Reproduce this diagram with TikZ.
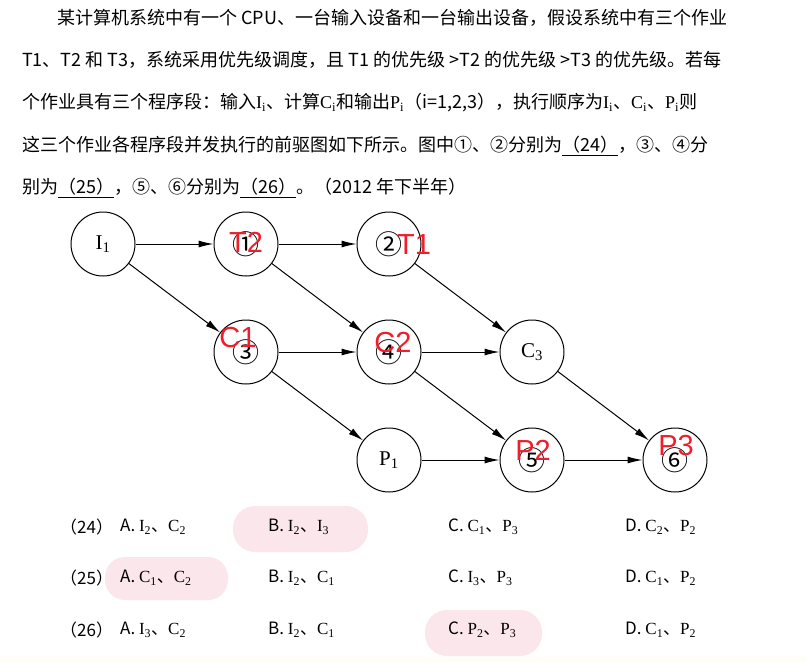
\documentclass[tikz,border=0pt]{standalone}
\usepackage{fontspec}
\setmainfont{Liberation Sans}
\newfontfamily\cjk{Noto Sans CJK SC}
\newfontfamily\serl{Liberation Serif}
\usetikzlibrary{arrows.meta,positioning}
\definecolor{hlpink}{HTML}{FBE6EC}
\definecolor{inkred}{HTML}{F01E2C}
\tikzstyle{job} = [draw,circle,line width=1pt,inner sep=0,minimum size=64pt,font=\serl\fontsize{21}{21}\selectfont]
\tikzstyle{dep} = [-{Latex[length=15pt,width=7pt]},line width=1pt]
\tikzstyle{line} = [anchor=west,inner sep=0,font=\cjk\fontsize{18}{20}\selectfont]
\tikzstyle{opt} = [anchor=west,inner sep=0,font=\cjk\fontsize{17}{19}\selectfont]
\tikzstyle{ink} = [inkred,font=\fontsize{29}{29}\selectfont]
\newcommand\jseg[2]{{\serl #1\textsubscript{#2}}}
\newcommand\circnum[1]{{\cjk\fontsize{27}{27}\selectfont #1}}
\def \gx {78pt}
\def \gy {43pt}

\begin{document}
\begin{tikzpicture}[x=1pt,y=-1pt,node distance=\gy and \gx]
  \useasboundingbox (0,0) rectangle (807,662);
  \fill[white] (0,0) rectangle (807,662);
  \fill[yellow!6] (0,658) rectangle (807,662);
  % question text
  \node[line] (l1) at (57,18) {某计算机系统中有一个 CPU、一台输入设备和一台输出设备，假设系统中有三个作业};
  \node[line] (l2) at (22,60) {T1、T2 和 T3，系统采用优先级调度，且 T1 的优先级 >T2 的优先级 >T3 的优先级。若每};
  \node[line] (l3) at (22,103) {个作业具有三个程序段：输入\jseg{I}{i}、计算\jseg{C}{i}和输出\jseg{P}{i}（i=1,2,3），执行顺序为\jseg{I}{i}、\jseg{C}{i}、\jseg{P}{i}则};
  \node[line] (l4) at (22,146) {这三个作业各程序段并发执行的前驱图如下所示。图中①、②分别为\underline{（24）}，③、④分};
  \node[line] (l5) at (22,188) {别为\underline{（25）}，⑤、⑥分别为\underline{（26）}。（2012 年下半年）};
  % precedence graph
  \node[job] (i1) at (103,244) {I\textsubscript{1}};
  \node[job,right=of i1] (n1) {\circnum{①}};
  \node[job,right=of n1] (n2) {\circnum{②}};
  \node[job,below=of n1] (n3) {\circnum{③}};
  \node[job,right=of n3] (n4) {\circnum{④}};
  \node[job,right=of n4] (c3) {C\textsubscript{3}};
  \node[job,below=of n4] (p1) {P\textsubscript{1}};
  \node[job,right=of p1] (n5) {\circnum{⑤}};
  \node[job,right=of n5] (n6) {\circnum{⑥}};
  \draw[dep] (i1) -- (n1);
  \draw[dep] (i1) -- (n3);
  \draw[dep] (n1) -- (n2);
  \draw[dep] (n1) -- (n4);
  \draw[dep] (n2) -- (c3);
  \draw[dep] (n3) -- (n4);
  \draw[dep] (n3) -- (p1);
  \draw[dep] (n4) -- (c3);
  \draw[dep] (n4) -- (n5);
  \draw[dep] (c3) -- (n6);
  \draw[dep] (p1) -- (n5);
  \draw[dep] (n5) -- (n6);
  % handwritten answers
  \node[ink] (h1) at (246,242) {T2};
  \node[ink] (h2) at (414,245) {T1};
  \node[ink] (h3) at (238,338) {C1};
  \node[ink] (h4) at (393,343) {C2};
  \node[ink] (h5) at (533,450) {P2};
  \node[ink] (h6) at (676,446) {P3};
  % choices
  \fill[hlpink,rounded corners=22pt] (233,506) rectangle (368,552);
  \fill[hlpink,rounded corners=20pt] (105,557) rectangle (228,600);
  \fill[hlpink,rounded corners=22pt] (425,610) rectangle (542,656);
  \foreach \q/\y/\a/\b/\c/\d in {
      24/527/{\jseg{I}{2}、\jseg{C}{2}}/{\jseg{I}{2}、\jseg{I}{3}}/{\jseg{C}{1}、\jseg{P}{3}}/{\jseg{C}{2}、\jseg{P}{2}},
      25/578/{\jseg{C}{1}、\jseg{C}{2}}/{\jseg{I}{2}、\jseg{C}{1}}/{\jseg{I}{3}、\jseg{P}{3}}/{\jseg{C}{1}、\jseg{P}{2}},
      26/630/{\jseg{I}{3}、\jseg{C}{2}}/{\jseg{I}{2}、\jseg{C}{1}}/{\jseg{P}{2}、\jseg{P}{3}}/{\jseg{C}{1}、\jseg{P}{2}}} {
    \node[opt] (q\q) at (60,\y) {（\q）};
    \node[opt] (q\q a) at (120,\y) {A. \a};
    \node[opt] (q\q b) at (268,\y) {B. \b};
    \node[opt] (q\q c) at (448,\y) {C. \c};
    \node[opt] (q\q d) at (625,\y) {D. \d};
  }
\end{tikzpicture}
\end{document}
